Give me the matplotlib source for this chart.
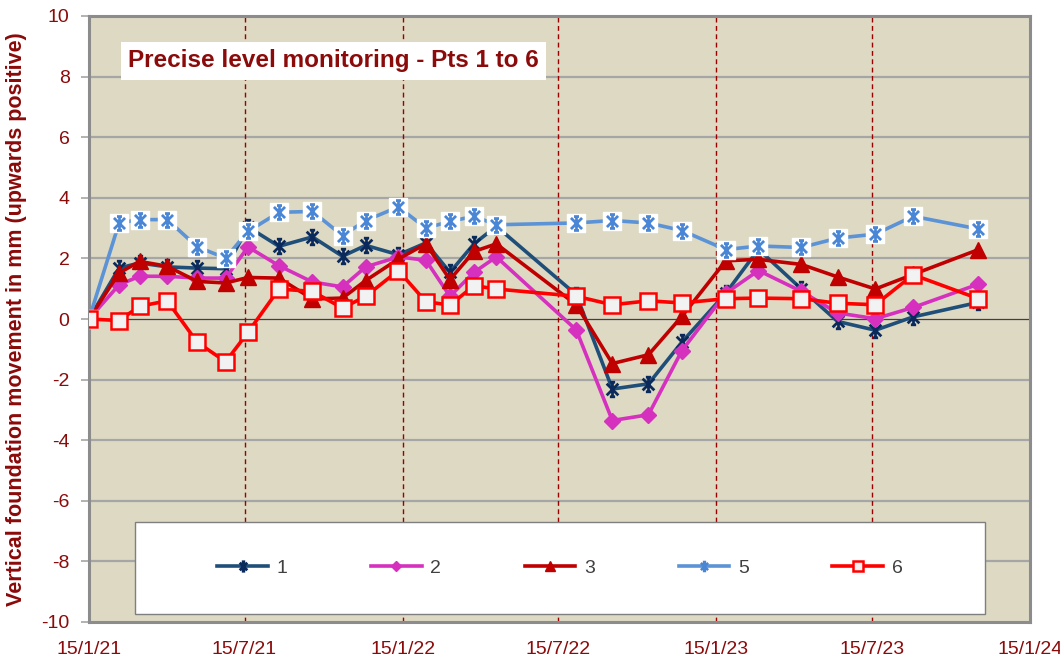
import matplotlib
matplotlib.use("Agg")
import matplotlib.pyplot as plt
from matplotlib.path import Path
from matplotlib.patches import Rectangle
from matplotlib.lines import Line2D
import datetime as dt

# ---------------- data ----------------
dates = ["2021-01-15", "2021-02-19", "2021-03-15", "2021-04-16", "2021-05-21",
         "2021-06-23", "2021-07-19", "2021-08-24", "2021-10-02", "2021-11-06",
         "2021-12-03", "2022-01-10", "2022-02-11", "2022-03-11", "2022-04-08",
         "2022-05-04", "2022-08-05", "2022-09-16", "2022-10-28", "2022-12-06",
         "2023-01-26", "2023-03-05", "2023-04-24", "2023-06-05", "2023-07-19",
         "2023-09-01", "2023-11-16"]

pt1 = [0, 1.68, 1.85, 1.72, 1.68, 1.66, 3.04, 2.40, 2.71, 2.07, 2.43, 2.12, 2.51,
       1.54, 2.48, 3.06, 0.80, -2.31, -2.14, -0.76, 0.85, 2.30, 0.99, -0.08, -0.37,
       0.07, 0.55]
pt2 = [0, 1.13, 1.41, 1.41, 1.35, 1.35, 2.38, 1.76, 1.22, 1.06, 1.72, 2.05, 1.94,
       0.75, 1.54, 2.05, -0.36, -3.35, -3.16, -1.04, 0.85, 1.60, 0.91, 0.20, 0.01,
       0.38, 1.15]
pt3 = [0, 1.52, 1.90, 1.74, 1.24, 1.19, 1.37, 1.35, 0.66, 0.69, 1.27, 1.98, 2.48,
       1.30, 2.23, 2.48, 0.47, -1.47, -1.18, 0.09, 1.92, 1.97, 1.80, 1.39, 0.99,
       1.47, 2.29]
pt5 = [0, 3.17, 3.28, 3.28, 2.38, 2.01, 2.89, 3.52, 3.55, 2.75, 3.25, 3.70, 3.00,
       3.22, 3.39, 3.11, 3.17, 3.25, 3.17, 2.92, 2.29, 2.41, 2.36, 2.67, 2.80,
       3.39, 2.97]
pt6 = [0, -0.05, 0.42, 0.60, -0.77, -1.41, -0.44, 0.99, 0.91, 0.36, 0.75, 1.60, 0.57,
       0.46, 1.10, 0.99, 0.75, 0.47, 0.60, 0.53, 0.67, 0.69, 0.67, 0.52, 0.47,
       1.46, 0.67]

series_labels = ["1", "2", "3", "5", "6"]
tick_dates = ["2021-01-15", "2021-07-15", "2022-01-15", "2022-07-15",
              "2023-01-15", "2023-07-15", "2024-01-15"]
tick_labels = ["15/1/21", "15/7/21", "15/1/22", "15/7/22", "15/1/23", "15/7/23", "15/1/24"]
vline_dates = ["2021-07-15", "2022-01-15", "2022-07-15", "2023-01-15", "2023-07-15", "2024-01-15"]
yticks = [-10, -8, -6, -4, -2, 0, 2, 4, 6, 8, 10]

title = "Precise level monitoring - Pts 1 to 6"
ylabel = "Vertical foundation movement in mm (upwards positive)"

# ---------------- style ----------------
plt.rcParams['font.family'] = ['Liberation Sans', 'DejaVu Sans']
DARKRED = "#8B0A0A"
BG = "#DDD9C3"

x = [dt.datetime.strptime(d, "%Y-%m-%d") for d in dates]
tx = [dt.datetime.strptime(d, "%Y-%m-%d") for d in tick_dates]
vx = [dt.datetime.strptime(d, "%Y-%m-%d") for d in vline_dates]

star = Path([(-1, -1), (1, 1), (-1, 1), (1, -1), (0, -1.25), (0, 1.25),
             (-0.45, 1.25), (0.45, 1.25), (-0.45, -1.25), (0.45, -1.25)],
            [Path.MOVETO, Path.LINETO] * 5)

fig = plt.figure(figsize=(10.6, 6.63), dpi=100)
ax = fig.add_axes([89 / 1060, 1 - 622 / 663, 941 / 1060, 606 / 663])
ax.set_facecolor(BG)

ax.set_xlim(tx[0], tx[-1])
ax.set_ylim(-10, 10)

# grid
for yv in yticks:
    if yv in (-10, 10):
        continue
    if yv == 0:
        ax.axhline(0, color="#404040", lw=0.9, zorder=1)
    else:
        ax.axhline(yv, color="#A6A6A6", lw=1.6, zorder=1)
for v in vx:
    ax.axvline(v, color="#990000", lw=1.0, ls=(0, (3.5, 2.5)), zorder=1.5)

# legend box (white)
ax.add_patch(Rectangle(((135 - 89) / 941, (622 - 614) / 606), (985 - 135) / 941,
                       (614 - 522) / 606, transform=ax.transAxes, facecolor="white",
                       edgecolor="#7F7F7F", lw=1.0, zorder=2))

lw = 2.6
h1, = ax.plot(x, pt1, color="#1F4E79", lw=lw, marker=star, ms=10.5, mec="#0B2A5B",
              mfc="none", mew=2.0, zorder=3, label=series_labels[0])
h2, = ax.plot(x, pt2, color="#D630BE", lw=lw, marker="D", ms=8, mec="#D630BE",
              mfc="#D630BE", zorder=4, label=series_labels[1])
h3, = ax.plot(x, pt3, color="#C00000", lw=lw, marker="^", ms=11, mec="#C00000",
              mfc="#C00000", zorder=5, label=series_labels[2])
ax.plot(x, pt5, color="#5B93D6", lw=lw, marker="s", ms=13, mec="white", mfc="white",
        zorder=6)
h5, = ax.plot(x, pt5, color="#5B93D6", lw=0, marker=star, ms=10, mec="#4A86D6",
              mfc="none", mew=2.0, zorder=6.5, label=series_labels[3])
h6, = ax.plot(x, pt6, color="#FF0000", lw=lw, marker="s", ms=11, mec="#FF0000",
              mfc="#F2F2F2", mew=1.8, zorder=7, label=series_labels[4])

lh5 = Line2D([], [], color="#5B93D6", lw=lw, marker=star, ms=10, mec="#4A86D6",
             mfc="none", mew=1.8)
leg = ax.legend([h1, h2, h3, lh5, h6], series_labels, ncol=5, frameon=False,
                loc="center", bbox_to_anchor=((560 - 89) / 941, (622 - 568) / 606),
                fontsize=14, handlelength=2.6, handletextpad=0.45, columnspacing=4.3,
                markerscale=0.65, labelcolor="#404040")
leg.set_zorder(8)

# axes look
ax.set_xticks(tx)
ax.set_xticklabels(tick_labels)
ax.set_yticks(yticks)
ax.set_yticklabels([str(v) for v in yticks])
ax.tick_params(axis="x", length=0, pad=14, labelsize=14, labelcolor=DARKRED)
ax.tick_params(axis="y", length=6, width=1.2, color="#A6A6A6", pad=8, labelsize=14,
               labelcolor=DARKRED)
for s in ax.spines.values():
    s.set_color("#8C8C8C")
    s.set_linewidth(2.2)

ax.set_ylabel(ylabel, fontsize=15.5, fontweight="bold", color=DARKRED, labelpad=10)

ax.text((128 - 89) / 941, (622 - 61) / 606, title, transform=ax.transAxes,
        fontsize=17.5, fontweight="bold", color=DARKRED, va="center", ha="left",
        zorder=9,
        bbox=dict(boxstyle="square,pad=0.3", facecolor="white", edgecolor="none"))

fig.savefig("out.png", dpi=100)
